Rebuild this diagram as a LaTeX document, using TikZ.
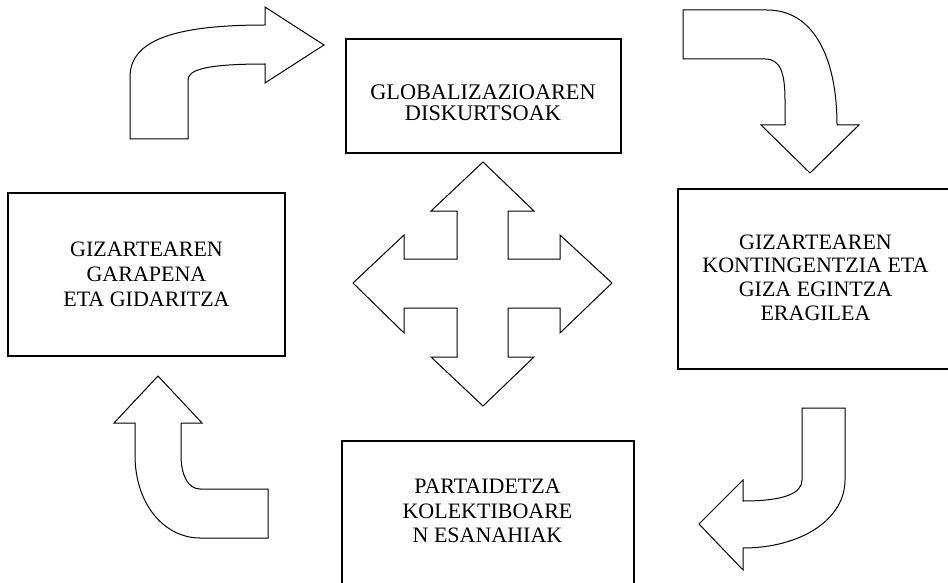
\documentclass[tikz,border=0pt]{standalone}
\usepackage{fontspec}
\setmainfont{Liberation Serif}
\begin{document}
\begin{tikzpicture}[x=1pt,y=-1pt,
  boxnode/.style={draw=black, line width=1.3pt, rectangle, inner sep=0pt},
  label/.style={align=center, inner sep=0pt},
  shapearrow/.style={draw=black, line width=1pt, fill=white, line join=miter}]
\useasboundingbox (0,0) rectangle (948,583);
\clip (0,0) rectangle (948,583);
\fill[white] (0,0) rectangle (948,583);

% boxes
\node[boxnode, minimum width=275pt, minimum height=114pt] (btop) at (483.5,96) {};
\node[boxnode, minimum width=277pt, minimum height=163pt] (bleft) at (146.5,274.5) {};
\node[boxnode, minimum width=274pt, minimum height=180pt] (bright) at (815,279) {};
\node[boxnode, minimum width=292pt, minimum height=160pt] (bbottom) at (488,521) {};

% texts
\node[label, font=\fontsize{22.3}{21.3}\selectfont] (ttop) at (483,102.5) {GLOBALIZAZIOAREN\\DISKURTSOAK};
\node[label, font=\fontsize{22}{25.2}\selectfont] (tleft) at (146.5,274.5) {GIZARTEAREN\\GARAPENA\\ETA GIDARITZA};
\node[label, font=\fontsize{22}{23.6}\selectfont] (tright) at (815.5,277.5) {GIZARTEAREN\\KONTINGENTZIA ETA\\GIZA EGINTZA\\ERAGILEA};
\node[label, font=\fontsize{22}{24.3}\selectfont] (tbottom) at (487.5,511) {PARTAIDETZA\\KOLEKTIBOARE\\N ESANAHIAK};

% top-left curved arrow (up then right)
\draw[shapearrow] (130,139) -- (130,77)
  .. controls (130,40) and (175,25) .. (265,25)
  -- (265,7) -- (324,45) -- (265,83) -- (265,64)
  .. controls (205,64) and (188,70) .. (188,80)
  -- (188,139) -- cycle;

% top-right curved arrow (right then down)
\draw[shapearrow] (683,10) -- (767,10)
  .. controls (815,10) and (837,60) .. (837,125)
  -- (859,125) -- (810,173) -- (761,125) -- (785,125)
  -- (785,100)
  .. controls (785,72) and (780,59) .. (765,59)
  -- (683,59) -- cycle;

% bottom-right curved arrow (down then left)
\draw[shapearrow] (802,408) -- (845,408) -- (845,480)
  .. controls (845,520) and (800,548) .. (743,548)
  -- (743,570) -- (699,524) -- (743,480) -- (743,501)
  .. controls (785,501) and (802,493) .. (802,480)
  -- cycle;

% bottom-left curved arrow (left then up)
\draw[shapearrow] (268,538) -- (200,538)
  .. controls (165,538) and (135,505) .. (135,455)
  -- (135,423) -- (114,423) -- (158,376) -- (202,423) -- (181,423)
  -- (181,455)
  .. controls (181,475) and (188,489) .. (200,489)
  -- (268,489) -- cycle;

% four-way arrow
\draw[shapearrow] (483,162) -- (534,211) -- (508,211) -- (508,259)
  -- (560,259) -- (560,235) -- (612,283) -- (560,333) -- (560,308)
  -- (508,308) -- (508,357) -- (534,357) -- (483,406) -- (431,357)
  -- (457,357) -- (457,308) -- (404,308) -- (404,333) -- (353,283)
  -- (404,235) -- (404,259) -- (457,259) -- (457,211) -- (431,211) -- cycle;
\end{tikzpicture}
\end{document}
